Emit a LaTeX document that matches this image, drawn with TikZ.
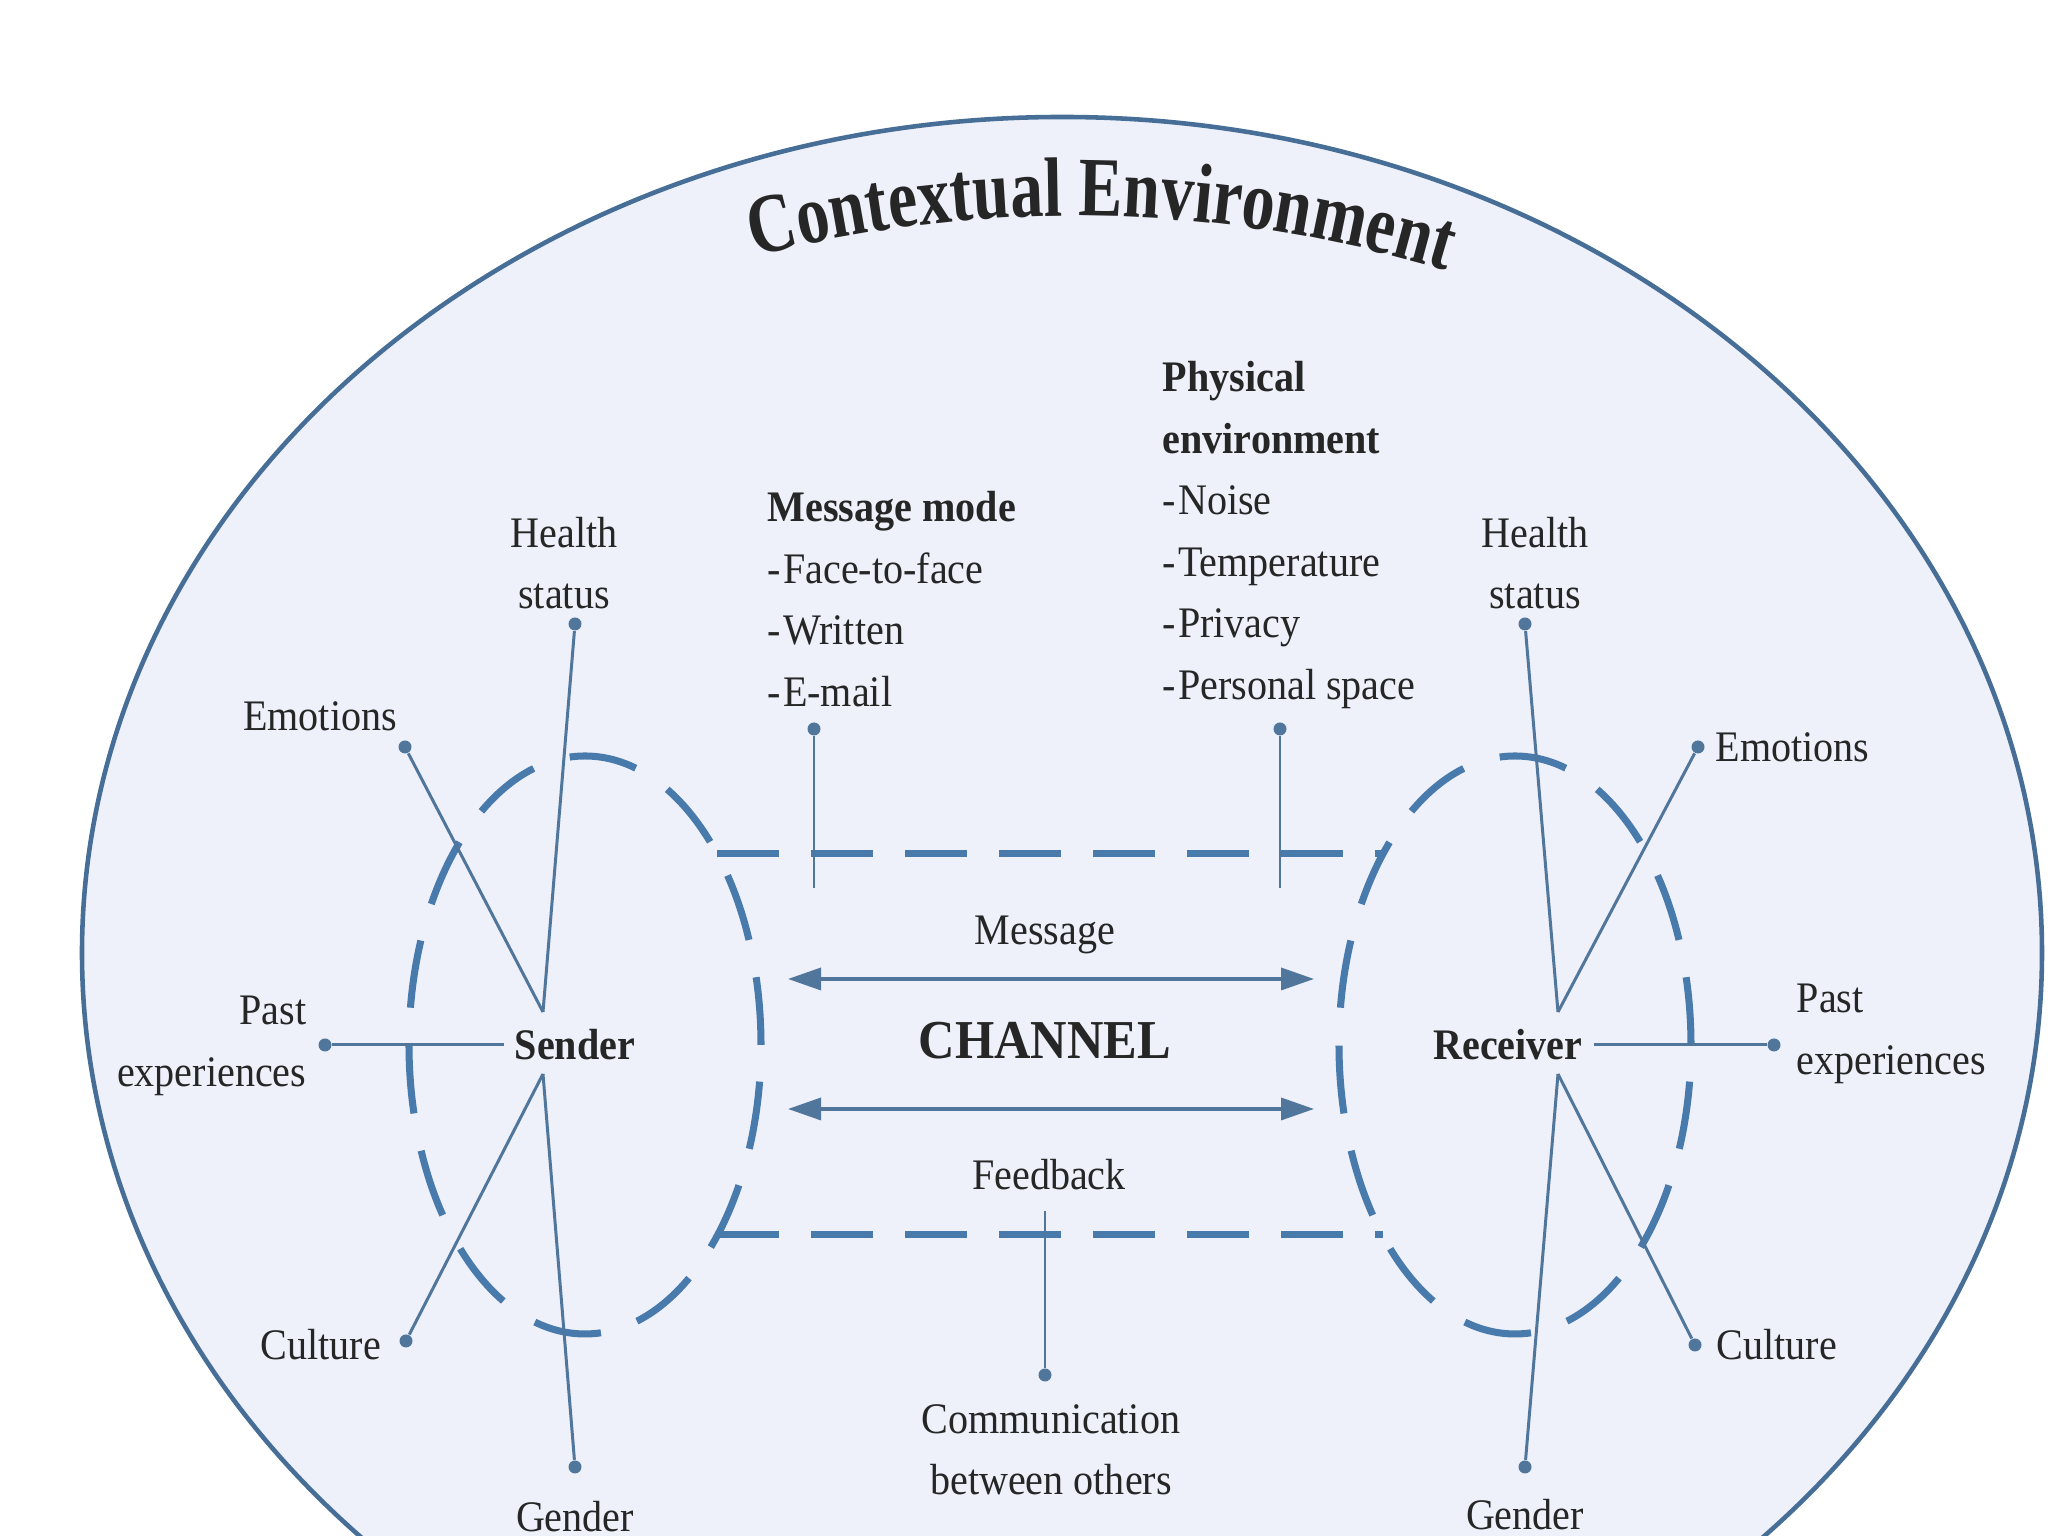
\documentclass[tikz,border=0pt]{standalone}
\usepackage{fontspec}
\setmainfont{Liberation Serif}[FakeStretch=0.92]
\newfontfamily\titlefont{Liberation Serif}[FakeStretch=0.78]
\usepackage{tikz}
\usetikzlibrary{arrows.meta, positioning, calc, decorations.text}

\definecolor{envfill}{RGB}{238,240,250}
\definecolor{envline}{RGB}{70,110,150}
\definecolor{dashblue}{RGB}{72,122,172}
\definecolor{spoke}{RGB}{80,118,155}
\definecolor{txt}{RGB}{38,38,38}
\newcommand{\titlestyle}{\titlefont\bfseries\fontsize{24}{28}\selectfont\color{txt}}

\begin{document}
\begin{tikzpicture}[>={Triangle[length=3.3mm,width=2.2mm]}, font=\fontsize{12.4}{17.5}\selectfont,
		lbl/.style={text=txt, inner sep=0pt, align=center},
		who/.style={text=txt, inner sep=3pt, font=\fontsize{12.4}{17.5}\selectfont\bfseries},
		endpt/.style={circle, fill=spoke, inner sep=0pt, minimum size=1.3mm},
		spokeline/.style={spoke, line width=0.85pt},
		zone/.style={dashblue, line width=2pt, dash pattern=on 6.8mm off 3.8mm},
		channelline/.style={dashblue, line width=2pt, dash pattern=on 6.2mm off 3.2mm}]
				\useasboundingbox (0,0) rectangle (20.48,15.36);
				\fill[white] (0,0) rectangle (20.48,15.36);
				\clip (0,0) rectangle (20.48,15.36);
				
				\draw[envline, line width=1.3pt, fill=envfill] (10.62,5.83) ellipse [x radius=9.80, y radius=8.36];
				\path[decorate, decoration={text along path, text align=center, text={|\titlestyle|Contextual Environment}}] (6.37,12.43) arc[start angle=110, end angle=67.6, radius=12.8];
				
				\draw[zone] (5.85,4.91) ellipse [x radius=1.76, y radius=2.89];
				\draw[zone] (15.15,4.91) ellipse [x radius=1.76, y radius=2.89];
				\draw[channelline] (7.17,6.82) -- (13.83,6.82);
				\draw[channelline] (7.17,3.01) -- (13.83,3.01);
				
				\node[who] (sender) at (5.75,4.91) {Sender};
				\node[who] (receiver) at (15.08,4.91) {Receiver};
				\coordinate (sTop) at (5.43,5.24);
				\coordinate (sBot) at (5.43,4.62);
				\coordinate (rTop) at (15.58,5.24);
				\coordinate (rBot) at (15.58,4.62);
				
				\node[endpt] (sHealth) at (5.75,9.12) {};
				\node[endpt] (sEmo) at (4.05,7.89) {};
				\node[endpt] (sPast) at (3.25,4.91) {};
				\node[endpt] (sCult) at (4.06,1.95) {};
				\node[endpt] (sGend) at (5.75,0.69) {};
				\node[endpt] (rHealth) at (15.25,9.12) {};
				\node[endpt] (rEmo) at (16.98,7.89) {};
				\node[endpt] (rPast) at (17.74,4.91) {};
				\node[endpt] (rCult) at (16.95,1.91) {};
				\node[endpt] (rGend) at (15.25,0.69) {};
				
				\draw[spokeline] (sHealth) -- (sTop);
				\draw[spokeline] (sEmo) -- (sTop);
				\draw[spokeline] (sPast) -- (sender);
				\draw[spokeline] (sCult) -- (sBot);
				\draw[spokeline] (sGend) -- (sBot);
				\draw[spokeline] (rHealth) -- (rTop);
				\draw[spokeline] (rEmo) -- (rTop);
				\draw[spokeline] (receiver) -- (rPast);
				\draw[spokeline] (rCult) -- (rBot);
				\draw[spokeline] (rGend) -- (rBot);
				
				\node[lbl] (sHealthT) at (5.64,9.73) {Health\\status};
				\node[lbl] (sEmoT) at (3.20,8.20) {Emotions};
				\node[lbl, anchor=east, align=right] (sPastT) at (3.07,4.90) {Past\\experiences};
				\node[lbl] (sCultT) at (3.21,1.91) {Culture};
				\node[lbl] (sGendT) at (5.75,0.19) {Gender};
				\node[lbl] (rHealthT) at (15.35,9.73) {Health\\status};
				\node[lbl, anchor=west] (rEmoT) at (17.15,7.89) {Emotions};
				\node[lbl, anchor=west, align=left] (rPastT) at (17.96,5.02) {Past\\experiences};
				\node[lbl, anchor=west] (rCultT) at (17.16,1.91) {Culture};
				\node[lbl] (rGendT) at (15.25,0.21) {Gender};
				
				\node[lbl, anchor=west, align=left] (modeT) at (7.67,9.37) {\textbf{Message mode}\\-\kern0.6pt Face-to-face\\-\kern0.6pt Written\\-\kern0.6pt E-mail};
				\node[lbl, anchor=west, align=left] (physT) at (11.62,10.01) {\textbf{Physical}\\\textbf{environment}\\-\kern0.6pt Noise\\-\kern0.6pt Temperature\\-\kern0.6pt Privacy\\-\kern0.6pt Personal space};
				\node[endpt] (modeDot) at (8.14,8.07) {};
				\node[endpt] (physDot) at (12.80,8.07) {};
				\coordinate (modeEnd) at (8.14,6.48);
				\coordinate (physEnd) at (12.80,6.48);
				\draw[spokeline] (modeDot) -- (modeEnd);
				\draw[spokeline] (physDot) -- (physEnd);
				
				\node[lbl] (msgT) at (10.45,6.01) {Message};
				\node[lbl, font=\fontsize{15.6}{18}\selectfont\bfseries] (channel) at (10.45,4.95) {CHANNEL};
				\node[lbl] (fbT) at (10.49,3.61) {Feedback};
				\coordinate (msgL) at (7.88,5.57);
				\coordinate (msgR) at (13.14,5.57);
				\coordinate (fbL) at (7.88,4.27);
				\coordinate (fbR) at (13.14,4.27);
				\draw[spokeline, line width=1pt, <->] (msgL) -- (msgR);
				\draw[spokeline, line width=1pt, <->] (fbL) -- (fbR);
				
				\node[lbl] (othersT) at (10.51,0.86) {Communication\\between others};
				\node[endpt] (fbDot) at (10.45,1.61) {};
				\coordinate (fbTop) at (10.45,3.25);
				\draw[spokeline] (fbTop) -- (fbDot);
			\end{tikzpicture}
\end{document}
